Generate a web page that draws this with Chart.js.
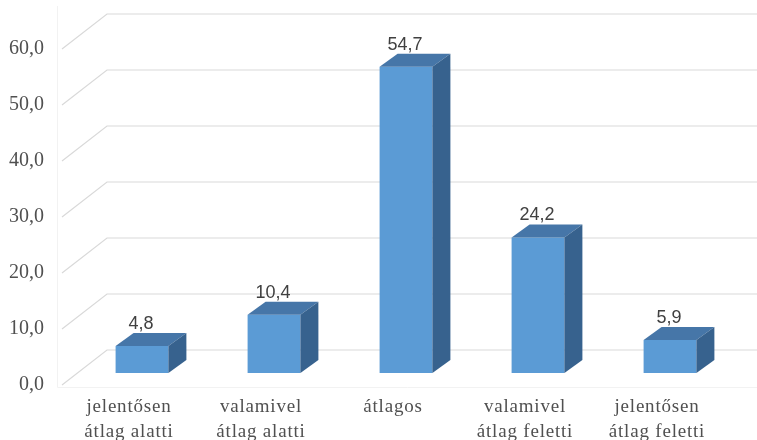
<!DOCTYPE html>
<html>
<head>
<meta charset="utf-8">
<script src="https://cdn.jsdelivr.net/npm/chart.js@4.4.0/dist/chart.umd.min.js"></script>
<style>
  html, body { margin: 0; padding: 0; background: #ffffff; }
  #wrap { width: 757px; height: 440px; position: relative; }
</style>
</head>
<body>
<div id="wrap"><canvas id="chart"></canvas></div>
<script>
// Distribution of ratings (percent)
const categories = [
    ['jelentősen', 'átlag alatti'],
    ['valamivel', 'átlag alatti'],
    ['átlagos'],
    ['valamivel', 'átlag feletti'],
    ['jelentősen', 'átlag feletti']
];
const values = [4.8, 10.4, 54.7, 24.2, 5.9];
const yTicks = [0, 10, 20, 30, 40, 50, 60];

const COLORS = {
    front: '#5b9bd5',
    top: '#4676a8',
    side: '#37628e',
    grid: '#d9d9d9',
    border: '#f2f2f2',
    label: '#404040',
    axis: '#505050'
};

const SERIF = '"Liberation Serif", "Times New Roman", serif';

// Oblique projection offsets for the floor/walls and for bar depth
const FRONT = { dx: -14, dy: 12 };
const BACK = { dx: 31, dy: -23 };
const BAR_DEPTH = { dx: 18, dy: 13 };

const fmt = v => v.toFixed(1).replace('.', ',');

// Back wall + left wall gridlines, drawn behind the bars
const wallsPlugin = {
    id: 'walls',
    beforeDatasetsDraw(chart) {
        const { ctx, chartArea, scales } = chart;
        const y = scales.y;
        ctx.save();

        // faint plot-area border
        ctx.strokeStyle = COLORS.border;
        ctx.lineWidth = 1;
        ctx.beginPath();
        ctx.moveTo(57.5, 6);
        ctx.lineTo(57.5, 387.5);
        ctx.lineTo(chart.width, 387.5);
        ctx.stroke();

        ctx.strokeStyle = COLORS.grid;
        ctx.lineWidth = 1.2;
        yTicks.forEach(v => {
            const py = y.getPixelForValue(v);
            const fx = chartArea.left + FRONT.dx;
            const fy = py + FRONT.dy;
            const bx = chartArea.left + BACK.dx;
            const by = py + BACK.dy;
            ctx.beginPath();
            ctx.moveTo(fx, fy);
            ctx.lineTo(bx, by);
            ctx.lineTo(chartArea.right + BACK.dx, by);
            ctx.stroke();
        });
        ctx.restore();
    }
};

// Top and side faces of each bar, plus the value labels
const bar3dPlugin = {
    id: 'bar3d',
    afterDatasetsDraw(chart) {
        const { ctx } = chart;
        const meta = chart.getDatasetMeta(0);
        ctx.save();
        meta.data.forEach((bar, i) => {
            const { x, y, base, width } = bar.getProps(['x', 'y', 'base', 'width'], true);
            const l = x - width / 2;
            const r = x + width / 2;
            const dx = BAR_DEPTH.dx;
            const dy = BAR_DEPTH.dy;

            ctx.fillStyle = COLORS.top;
            ctx.beginPath();
            ctx.moveTo(l, y);
            ctx.lineTo(l + dx, y - dy);
            ctx.lineTo(r + dx, y - dy);
            ctx.lineTo(r, y);
            ctx.closePath();
            ctx.fill();

            ctx.fillStyle = COLORS.side;
            ctx.beginPath();
            ctx.moveTo(r, y);
            ctx.lineTo(r + dx, y - dy);
            ctx.lineTo(r + dx, base - dy);
            ctx.lineTo(r, base);
            ctx.closePath();
            ctx.fill();

            ctx.fillStyle = COLORS.label;
            ctx.font = '18px "Liberation Sans", Arial, sans-serif';
            ctx.textAlign = 'center';
            ctx.textBaseline = 'middle';
            ctx.fillText(fmt(values[i]), x - 1, y - 22);
        });
        ctx.restore();
    }
};

// Category labels sit on the front edge of the floor, loosely spaced
const categoryLabelsPlugin = {
    id: 'categoryLabels',
    afterDraw(chart) {
        const { ctx, scales } = chart;
        const xs = scales.x;
        ctx.save();
        ctx.fillStyle = COLORS.axis;
        ctx.font = '19px ' + SERIF;
        ctx.letterSpacing = '0.8px';
        ctx.textAlign = 'center';
        ctx.textBaseline = 'middle';
        categories.forEach((lines, i) => {
            const cx = xs.getPixelForTick(i) - 13;
            lines.forEach((line, j) => {
                ctx.fillText(line, cx, 407 + j * 25);
            });
        });
        ctx.restore();
    }
};

new Chart(document.getElementById('chart'), {
    type: 'bar',
    data: {
        labels: categories,
        datasets: [{
            data: values,
            backgroundColor: COLORS.front,
            borderWidth: 0,
            barPercentage: 0.4,
            categoryPercentage: 1
        }]
    },
    options: {
        responsive: true,
        maintainAspectRatio: false,
        animation: false,
        layout: {
            padding: { top: 37, right: 21, bottom: 0, left: 0 }
        },
        plugins: {
            legend: { display: false },
            tooltip: { enabled: false }
        },
        scales: {
            x: {
                grid: { display: false, drawTicks: false },
                border: { display: false },
                afterFit: s => { s.height = 67; },
                ticks: { display: false }
            },
            y: {
                min: 0,
                max: 60,
                grid: { display: false, drawTicks: false },
                border: { display: false },
                afterFit: s => {
                    s.width = 76;
                    s.paddingTop = 0;
                    s.paddingBottom = 0;
                },
                ticks: {
                    stepSize: 10,
                    color: COLORS.axis,
                    padding: 32,
                    labelOffset: 12,
                    font: { family: SERIF, size: 20 },
                    callback: v => fmt(v)
                }
            }
        }
    },
    plugins: [wallsPlugin, bar3dPlugin, categoryLabelsPlugin]
});
</script>
</body>
</html>
